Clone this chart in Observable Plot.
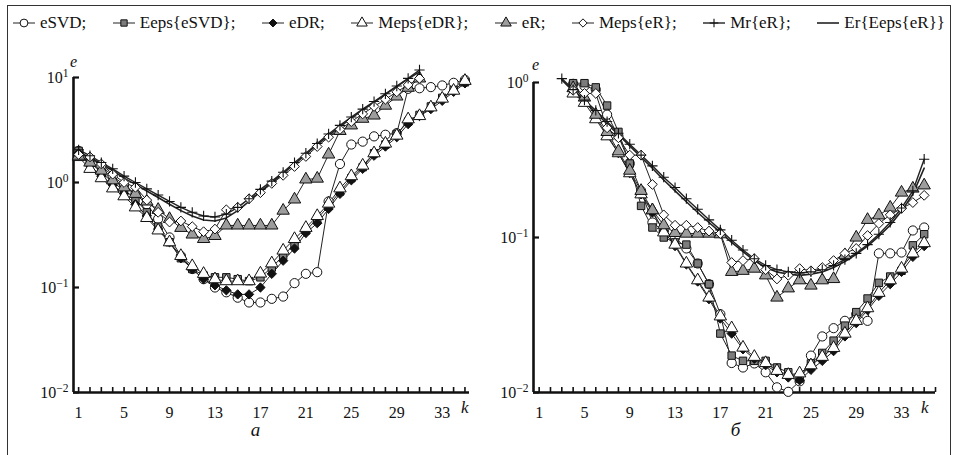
<!DOCTYPE html>
<html><head><meta charset="utf-8">
<script src="https://cdn.jsdelivr.net/npm/d3@7"></script>
<script src="https://cdn.jsdelivr.net/npm/@observablehq/plot@0.6"></script>
<style>
html,body{margin:0;padding:0;background:#fff;}
body{width:955px;height:455px;position:relative;overflow:hidden;font-family:'Liberation Serif','Times New Roman',Times,'DejaVu Serif',serif;}
#frame{position:absolute;left:7px;top:5px;width:944px;height:470px;border:1.5px solid #333;box-sizing:border-box;}
#legend{position:absolute;left:12px;top:13px;width:933px;display:flex;justify-content:space-between;align-items:center;font-size:17px;color:#111;white-space:nowrap;}
.item{display:flex;align-items:center;}
.item svg{margin-right:4px;overflow:visible;}
#left{position:absolute;left:0;top:50px;}
#right{position:absolute;left:480px;top:50px;}
svg text{font-family:'Liberation Serif','Times New Roman',Times,'DejaVu Serif',serif;}
</style></head><body>
<div id="frame"></div>
<div id="legend"></div>
<div id="left"></div>
<div id="right"></div>
<script>
// ---------- data ----------
const seriesNames = ["eSVD","Eeps{eSVD}","eDR","Meps{eDR}","eR","Meps{eR}","Mr{eR}","Er{Eeps{eR}}"];
const kLabelTicks = [1,5,9,13,17,21,25,29,33];
const yTicksLeft = [0.01,0.1,1,10];
const yTicksRight = [0.01,0.1,1];

// panel а (k starts at 1)
const a_eSVD   = [2.0,1.7,1.45,1.15,0.95,0.78,0.62,0.45,0.3,0.2,0.15,0.12,0.1,0.09,0.08,0.072,0.072,0.078,0.082,0.11,0.135,0.14,0.66,1.5,2.3,2.45,2.75,2.85,2.95,7.8,7.9,8.1,8.4,8.9,9.5];
const a_EepsSVD= [2.0,1.55,1.25,1.0,0.85,0.7,0.52,0.38,0.27,0.19,0.15,0.13,0.125,0.125,0.12,0.115,0.125,0.155,0.2,0.26,0.35,0.45,0.6,0.82,1.1,1.4,1.9,2.3,2.9,3.8,4.4,5.3,6.4,7.6,9.0];
const a_eDR    = [1.9,1.45,1.15,0.95,0.78,0.62,0.48,0.36,0.27,0.19,0.15,0.12,0.105,0.094,0.086,0.086,0.1,0.135,0.18,0.235,0.33,0.41,0.56,0.78,1.05,1.35,1.8,2.2,2.7,3.6,4.3,5.0,6.0,7.3,8.8];
const a_MepsDR = [1.75,1.35,1.1,0.88,0.74,0.58,0.46,0.35,0.27,0.2,0.16,0.135,0.12,0.115,0.115,0.115,0.136,0.17,0.225,0.29,0.37,0.48,0.63,0.88,1.15,1.45,1.9,2.35,2.8,4.0,4.3,5.2,6.3,7.5,9.3];
const a_eR     = [1.8,1.55,1.3,1.05,0.9,0.78,0.66,0.55,0.45,0.37,0.32,0.29,0.31,0.39,0.39,0.39,0.39,0.39,0.54,0.69,1.07,1.09,1.85,3.1,3.5,4.05,4.35,5.4,6.6,8.0,9.8];
const a_MepsR  = [1.85,1.75,1.5,1.2,1.0,0.9,0.68,0.52,0.42,0.43,0.38,0.34,0.36,0.55,0.58,0.7,0.8,0.98,1.17,1.42,1.77,2.2,2.7,3.2,3.8,4.5,5.3,6.2,7.3,8.5,9.8];
const a_Mr     = [2.05,1.8,1.55,1.35,1.15,1.0,0.87,0.76,0.66,0.58,0.52,0.48,0.47,0.5,0.58,0.7,0.86,1.03,1.25,1.55,1.9,2.35,2.9,3.5,4.2,5.0,5.9,7.0,8.3,9.8,11.8];
const a_Er     = [1.95,1.72,1.5,1.3,1.1,0.96,0.83,0.72,0.62,0.54,0.48,0.44,0.43,0.46,0.54,0.66,0.82,1.0,1.22,1.5,1.85,2.3,2.8,3.4,4.1,4.9,5.8,6.9,8.2,9.7,11.3];
const a_start = 1;

// panel б (markers start at k = 4, Mr/Er lines at k = 3)
const b_eSVD   = [0.98,0.95,0.9,0.62,0.45,0.3,0.2,0.125,0.11,0.1,0.085,0.068,0.05,0.032,0.0155,0.0145,0.0154,0.0135,0.0108,0.0101,0.0118,0.0173,0.023,0.026,0.029,0.032,0.029,0.079,0.079,0.08,0.111,0.116];
const b_EepsSVD= [0.99,0.99,0.93,0.71,0.48,0.3,0.16,0.116,0.1,0.093,0.09,0.068,0.05,0.024,0.0173,0.016,0.016,0.016,0.0145,0.0135,0.0123,0.0154,0.018,0.0216,0.027,0.033,0.0404,0.051,0.056,0.061,0.089,0.105];
const b_eDR    = [0.9,0.78,0.6,0.46,0.35,0.26,0.19,0.145,0.11,0.088,0.067,0.052,0.04,0.03,0.024,0.019,0.0165,0.015,0.0135,0.0125,0.012,0.014,0.016,0.0185,0.023,0.028,0.034,0.042,0.05,0.06,0.075,0.088];
const b_MepsDR = [0.85,0.74,0.58,0.45,0.35,0.26,0.19,0.15,0.108,0.09,0.068,0.053,0.041,0.031,0.026,0.0195,0.017,0.0155,0.0138,0.013,0.0133,0.015,0.017,0.0194,0.024,0.029,0.035,0.044,0.053,0.063,0.079,0.092];
const b_eR     = [0.92,0.8,0.62,0.48,0.36,0.27,0.2,0.15,0.12,0.107,0.106,0.106,0.106,0.105,0.06,0.061,0.063,0.057,0.041,0.047,0.053,0.049,0.053,0.054,0.077,0.1,0.13,0.139,0.156,0.195,0.207,0.217];
const b_MepsR  = [0.89,0.85,0.85,0.51,0.44,0.34,0.34,0.22,0.14,0.12,0.12,0.116,0.11,0.106,0.069,0.071,0.073,0.062,0.054,0.057,0.063,0.061,0.064,0.071,0.079,0.085,0.103,0.123,0.14,0.154,0.168,0.187];
const b_Mr     = [1.06,0.9,0.77,0.66,0.56,0.47,0.4,0.34,0.29,0.245,0.21,0.178,0.152,0.13,0.112,0.096,0.083,0.073,0.066,0.062,0.06,0.059,0.06,0.062,0.066,0.072,0.079,0.09,0.105,0.125,0.155,0.2,0.32];
const b_Er     = [1.04,0.88,0.75,0.64,0.54,0.46,0.39,0.33,0.28,0.235,0.2,0.17,0.145,0.125,0.108,0.093,0.081,0.071,0.064,0.06,0.058,0.057,0.058,0.06,0.064,0.07,0.078,0.088,0.102,0.12,0.148,0.19,0.28];
const b_markerStart = 4;
const b_lineStart = 3;

// ---------- styles ----------
const FONT = "'Liberation Serif','Times New Roman',Times,'DejaVu Serif',serif";
const styles = {
  "eSVD":        {symbol:"circle",   fill:"white",   r:4.6, lw:1},
  "Eeps{eSVD}":  {symbol:"square",   fill:"#7c7c7c", r:4.2, lw:1},
  "eDR":         {symbol:"diamond2", fill:"#111",    r:4.2, lw:1},
  "Meps{eDR}":   {symbol:"triangle", fill:"white",   r:4.6, lw:1},
  "eR":          {symbol:"triangle", fill:"#9d9d9d", r:4.6, lw:1},
  "Meps{eR}":    {symbol:"diamond2", fill:"white",   r:4.4, lw:1},
  "Mr{eR}":      {symbol:"plus",     fill:"none",    r:3.4, lw:1.4},
  "Er{Eeps{eR}}":{symbol:null,       fill:"none",    r:0,   lw:1.6}
};

function rows(name, start, values){ return values.map((v,i)=>({series:name, k:start+i, v})); }

const dataA = [].concat(
  rows("eSVD",a_start,a_eSVD), rows("Eeps{eSVD}",a_start,a_EepsSVD), rows("eDR",a_start,a_eDR),
  rows("Meps{eDR}",a_start,a_MepsDR), rows("eR",a_start,a_eR), rows("Meps{eR}",a_start,a_MepsR),
  rows("Mr{eR}",a_start,a_Mr), rows("Er{Eeps{eR}}",a_start,a_Er));
const dataB = [].concat(
  rows("eSVD",b_markerStart,b_eSVD), rows("Eeps{eSVD}",b_markerStart,b_EepsSVD), rows("eDR",b_markerStart,b_eDR),
  rows("Meps{eDR}",b_markerStart,b_MepsDR), rows("eR",b_markerStart,b_eR), rows("Meps{eR}",b_markerStart,b_MepsR),
  rows("Mr{eR}",b_lineStart,b_Mr), rows("Er{Eeps{eR}}",b_lineStart,b_Er));

function superscripts(svg){
  svg.querySelectorAll('g[aria-label="y-axis tick label"] text').forEach(t=>{
    const m = (t.textContent||"").match(/^10\^(-?\d+)$/);
    if(!m) return;
    t.textContent = "10";
    const ts = document.createElementNS("http://www.w3.org/2000/svg","tspan");
    ts.setAttribute("dy","-0.5em");
    ts.setAttribute("font-size","0.72em");
    ts.textContent = m[1].replace("-","\u2212");
    t.appendChild(ts);
  });
}

function panel(o){
  const marks = [
    Plot.ruleY([o.yDomain[0]], {stroke:"#111", strokeWidth:2.6}),
    Plot.ruleX([o.xDomain[0]], {stroke:"#111", strokeWidth:2.6}),
    Plot.axisX({ticks:d3.range(1,o.xTickMax+1), tickSize:-5, tickFormat:()=>"", strokeWidth:1.6, label:null}),
    Plot.axisX({ticks:kLabelTicks, tickSize:0, tickPadding:14, label:null}),
    Plot.axisY({ticks:o.yTicks, tickSize:-6, tickFormat:()=>"", strokeWidth:2.2, label:null}),
    Plot.axisY({ticks:o.yTicks, tickSize:0, tickPadding:5, label:null,
      tickFormat:d=>"10^"+Math.round(Math.log10(d))})
  ];
  for(const name of seriesNames){
    const s = styles[name];
    marks.push(Plot.line(o.data.filter(d=>d.series===name), {x:"k", y:"v", stroke:"#222", strokeWidth:s.lw}));
  }
  for(const name of seriesNames){
    const s = styles[name];
    if(!s.symbol) continue;
    marks.push(Plot.dot(o.data.filter(d=>d.series===name), {x:"k", y:"v", symbol:s.symbol, r:s.r,
      fill:s.fill, stroke:"#111", strokeWidth: s.symbol==="plus" ? 1.1 : 1}));
  }
  marks.push(Plot.text(["e"], {text:d=>d, frameAnchor:"top-left", textAnchor:"middle", lineAnchor:"middle", dx:o.eDx, dy:o.eDy, fontStyle:"italic", fontSize:16}));
  marks.push(Plot.text(["k"], {text:d=>d, frameAnchor:"bottom-right", dx:o.kDx, dy:20, fontStyle:"italic", fontSize:17}));
  marks.push(Plot.text([o.letter], {text:d=>d, frameAnchor:"bottom", dx:o.letterDx, dy:43, fontStyle:"italic", fontSize:19}));
  const svg = Plot.plot({
    width:o.width, height:400,
    marginLeft:o.marginLeft, marginRight:o.marginRight, marginTop:o.marginTop, marginBottom:58,
    x:{domain:o.xDomain, label:null},
    y:{type:"log", domain:o.yDomain, label:null},
    style:{fontFamily:FONT, fontSize:"16px", background:"transparent", overflow:"visible", color:"#111"},
    marks
  });
  superscripts(svg);
  return svg;
}

document.getElementById("left").appendChild(panel({
  data:dataA, width:480, marginLeft:73, marginRight:11, marginTop:27,
  xDomain:[0.55,35.4], yDomain:[0.01,10], yTicks:yTicksLeft, xTickMax:35,
  letter:"а", letterDx:-16, kDx:-1, eDx:0, eDy:-16
}));
document.getElementById("right").appendChild(panel({
  data:dataB, width:475, marginLeft:53, marginRight:20, marginTop:32,
  xDomain:[0.5,36], yDomain:[0.01,1], yTicks:yTicksRight, xTickMax:36,
  letter:"б", letterDx:1, kDx:-7, eDx:2, eDy:-18
}));

// ---------- legend ----------
const symbolTypes = {circle:d3.symbolCircle, square:d3.symbolSquare, diamond2:d3.symbolDiamond2, triangle:d3.symbolTriangle, plus:d3.symbolPlus};
const legend = document.getElementById("legend");
const NS = "http://www.w3.org/2000/svg";
for(const name of seriesNames){
  const s = styles[name];
  const item = document.createElement("div"); item.className = "item";
  const sv = document.createElementNS(NS,"svg");
  sv.setAttribute("width","24"); sv.setAttribute("height","14");
  const ln = document.createElementNS(NS,"line");
  ln.setAttribute("x1","1"); ln.setAttribute("x2","23"); ln.setAttribute("y1","7"); ln.setAttribute("y2","7");
  ln.setAttribute("stroke","#222"); ln.setAttribute("stroke-width", String(s.lw));
  sv.appendChild(ln);
  if(s.symbol){
    const p = document.createElementNS(NS,"path");
    const rr = s.r*0.85;
    p.setAttribute("d", d3.symbol(symbolTypes[s.symbol], Math.PI*rr*rr)());
    p.setAttribute("transform","translate(12,7)");
    p.setAttribute("fill", s.fill); p.setAttribute("stroke","#111");
    p.setAttribute("stroke-width", s.symbol==="plus" ? "1.1" : "1");
    sv.appendChild(p);
  }
  const sp = document.createElement("span");
  sp.textContent = name + (name==="Er{Eeps{eR}}" ? "" : ";");
  item.appendChild(sv); item.appendChild(sp);
  legend.appendChild(item);
}
</script>
</body></html>
